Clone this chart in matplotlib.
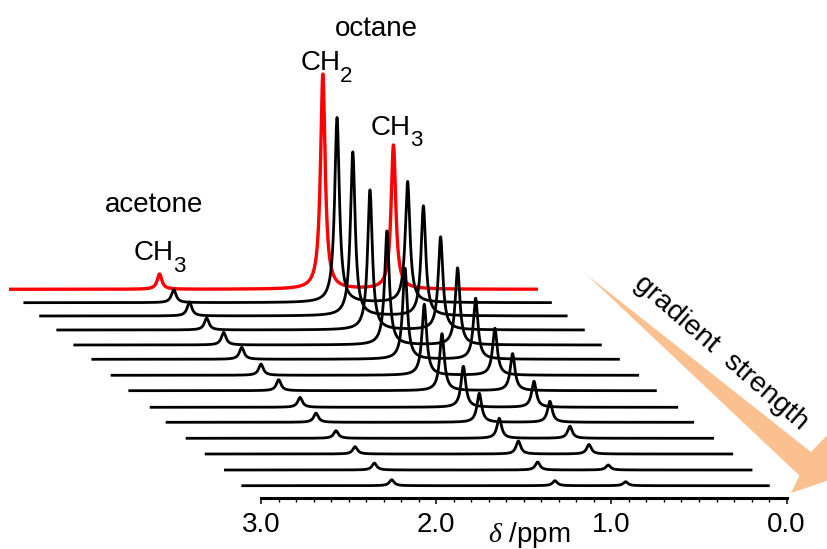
import numpy as np
import matplotlib
matplotlib.use('Agg')
import matplotlib.pyplot as plt
from matplotlib.patches import Polygon

plt.rcParams['font.family'] = ['Liberation Sans', 'DejaVu Sans']
plt.rcParams['mathtext.fontset'] = 'custom'
plt.rcParams['mathtext.rm'] = 'Liberation Sans'
plt.rcParams['mathtext.it'] = 'Liberation Serif:italic'

# peaks: acetone CH3, octane CH2, octane CH3 (ppm)
peak_ppm = [2.25, 1.318, 0.915]
peak_hwhm = 0.016
ppm_start, ppm_end = 3.1, 0.1

# peak heights per gradient step (row 0 = red, weakest gradient)
acetone_ch3 = [15.2, 13.0, 13.9, 11.9, 12.6, 11.9, 11.2, 11.0, 9.9, 9.2, 7.6, 7.3, 6.9, 6.0]
octane_ch2 = [215, 185, 164, 140, 114, 91, 71, 57, 41, 29, 20, 13, 8, 5]
octane_ch3 = [144, 121, 110, 93, 77, 61, 47, 37, 26, 21, 12, 9.5, 5, 4]

tick_vals = [3, 2, 1, 0]
tick_labels = ['3.0', '2.0', '1.0', '0.0']

# stacking layout (ppm shift to the left, vertical offset)
row_dx = [1.329, 1.248, 1.158, 1.060, 0.963, 0.860, 0.750, 0.649, 0.527, 0.436, 0.322, 0.213, 0.103, 0.004]
row_base = [209, 195.6, 182.3, 168.3, 153.3, 139, 123, 107.6, 91, 76, 60, 44.3, 28.3, 12.6]

W, H = 827, 549


def fx(px):
    return px / W


def fy(py):
    return 1 - py / H


fig = plt.figure(figsize=(W / 100, H / 100), dpi=100)
ax = fig.add_axes([0, fy(498.3), 1, 1 - fy(498.3)])
ax.set_xlim(3 + 261 / 175.2, 3 - (W - 261) / 175.2)
ax.set_ylim(0, 498.3)

x = np.linspace(ppm_start, ppm_end, 4001)
heights = [acetone_ch3, octane_ch2, octane_ch3]
for i in range(len(row_base)):
    y = np.zeros_like(x)
    for p, h in zip(peak_ppm, heights):
        y += h[i] * peak_hwhm**2 / ((x - p)**2 + peak_hwhm**2)
    if i == 0:
        ax.plot(x + row_dx[i], row_base[i] + y, color='#ff0000', lw=2.4, zorder=2,
                clip_on=False)
    else:
        ax.plot(x + row_dx[i], row_base[i] + y, color='black', lw=2.0, zorder=3,
                clip_on=False)

for s in ['left', 'right', 'top']:
    ax.spines[s].set_visible(False)
ax.spines['bottom'].set_bounds(0, 3)
ax.spines['bottom'].set_linewidth(2.2)
ax.set_yticks([])
ax.set_xticks(tick_vals)
ax.set_xticklabels(tick_labels)
ax.set_xticks(np.round(np.arange(0, 3.05, 0.1), 1), minor=True)
ax.tick_params(axis='x', which='major', direction='out', length=4.2, width=1.1,
               labelsize=20, pad=6)
ax.tick_params(axis='x', which='minor', direction='out', length=2.6, width=1.0)
ax.patch.set_visible(False)

fig.text(fx(529), fy(542), r'$\delta$ /ppm', fontsize=20, ha='center', va='baseline')

renderer = fig.canvas.get_renderer()


def group_label(px, py, sub):
    # "CH" followed by a dropped subscript digit
    t = fig.text(fx(px), fy(py), 'CH', fontsize=20, ha='left', va='baseline')
    bb = t.get_window_extent(renderer)
    fig.text(fx(bb.x1 - 0.5), fy(py + 11.5), sub, fontsize=16, ha='left', va='baseline')


fig.text(fx(376.5), fy(36), 'octane', fontsize=20, ha='center', va='baseline')
fig.text(fx(105), fy(211.7), 'acetone', fontsize=20, ha='left', va='baseline')
group_label(300.7, 70, '2')
group_label(371, 135, '3')
group_label(133.3, 260, '3')

# gradient arrow
arrow_px = [(587, 275), (811, 452), (842, 420), (850, 473), (791, 493), (799.5, 475.6)]
fig.patches.append(Polygon([(fx(a), fy(b)) for a, b in arrow_px], closed=True,
                           transform=fig.transFigure, facecolor='#fac090',
                           edgecolor='none', zorder=0))
fig.text(fx(721), fy(353), 'gradient  strength', fontsize=20.5, rotation=-41,
         rotation_mode='anchor', ha='center', va='center')

fig.savefig('out.png', dpi=100)
